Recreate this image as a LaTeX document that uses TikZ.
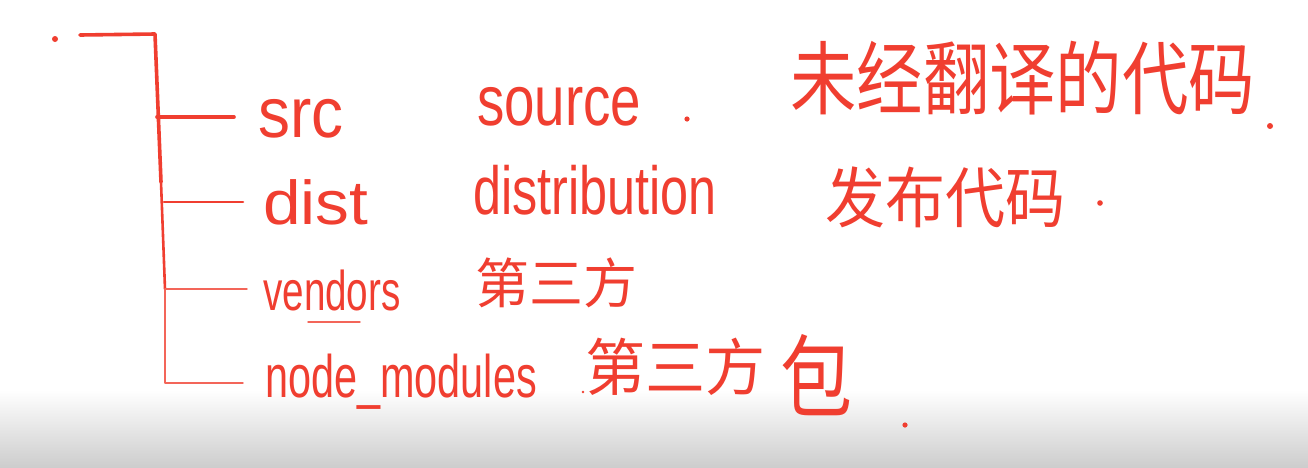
\documentclass[tikz,border=0pt]{standalone}
\usepackage{fontspec}
\setmainfont{Liberation Sans}
\newfontfamily\cjk{Noto Sans CJK SC}
\definecolor{ink}{RGB}{240,62,48}
\definecolor{floorgray}{RGB}{205,205,205}
\newcommand\handtxt[4]{{#1\fontsize{#2}{#2}\selectfont\scalebox{#3}[1]{#4}}}
\tikzset{
  lbl/.style={text=ink, inner sep=0pt, anchor=base west},
  heavy/.style={draw=ink, line width=3.6pt, line cap=round, line join=round},
  medium/.style={draw=ink, line width=2.6pt, line cap=round},
  light/.style={draw=ink!80, line width=1.4pt, line cap=round, line join=round},
  speck/.style={fill=ink}
}
\begin{document}
\begin{tikzpicture}[x=1pt,y=-1pt]
\useasboundingbox (0,0) rectangle (1308,467);
\fill[white] (0,0) rectangle (1308,467);
\shade[top color=white, bottom color=floorgray] (0,390) rectangle (1308,467);

% tree
\coordinate (t0) at (80,35);
\coordinate (t1) at (155,34);
\coordinate (j1) at (157,117);
\coordinate (j2) at (161,182);
\coordinate (j3) at (164,202);
\coordinate (j4) at (165,289);
\coordinate (j5) at (165,383);
\coordinate (b1) at (234,117);
\coordinate (b2) at (243,202);
\coordinate (b3) at (247,289);
\coordinate (b4) at (243,383);
\coordinate (u0) at (308,322);
\coordinate (u1) at (360,322);

\draw[heavy] (t0) -- (t1) -- (j2);
\draw[heavy] (j1) -- (b1);
\draw[medium] (j2) -- (j4);
\draw[medium] (j3) -- (b2);
\draw[light] (j4) -- (b3);
\draw[light] (j4) -- (j5) -- (b4);
\draw[light] (u0) -- (u1);

% dots
\fill[speck] (55,39) circle (3);
\fill[speck] (687,119) circle (2.6);
\fill[speck] (1270,126) circle (3);
\fill[speck] (1100,203) circle (2.8);
\fill[speck] (905,425) circle (2.6);
\fill[speck] (583,392) circle (1.4);

% latin labels
\node[lbl] (src) at (258,137) {\handtxt{}{71}{0.9}{src}};
\node[lbl] (source) at (477,125) {\handtxt{}{71}{0.77}{source}};
\node[lbl] (dist) at (263,224) {\handtxt{}{62}{1.09}{dist}};
\node[lbl] (distribution) at (473,214) {\handtxt{}{68}{0.74}{distribution}};
\node[lbl] (vendors) at (263,310) {\handtxt{}{56}{0.69}{vendors}};
\node[lbl] (nodemod) at (265,397) {\handtxt{}{60}{0.69}{node\_modules}};

% chinese labels
\node[lbl] (untrans) at (790,108) {\handtxt{\cjk}{80}{0.83}{未经翻译的代码}};
\node[lbl] (release) at (825,222) {\handtxt{\cjk}{66}{0.91}{发布代码}};
\node[lbl] (third) at (475,303) {\handtxt{\cjk}{54}{1.0}{第三方}};
\node[lbl] (thirdpkg) at (585,390) {\handtxt{\cjk}{62}{0.97}{第三方}};
\node[lbl] (pkg) at (780,410) {\handtxt{\cjk}{90}{0.8}{包}};
\end{tikzpicture}
\end{document}
